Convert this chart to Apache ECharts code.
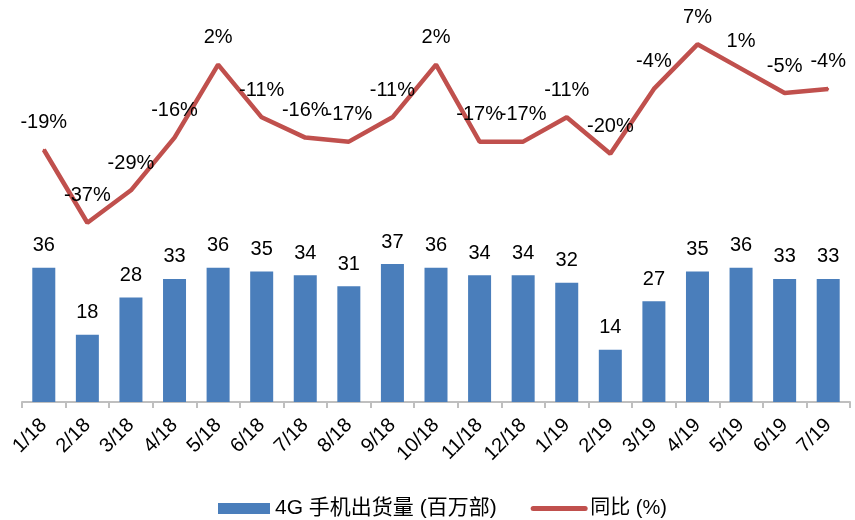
<!DOCTYPE html>
<html>
<head>
<meta charset="utf-8">
<script src="https://cdn.jsdelivr.net/npm/echarts@6/dist/echarts.min.js"></script>
<style>
  html, body { margin: 0; padding: 0; background: #fff; }
  #chart { width: 855px; height: 520px; }
</style>
</head>
<body>
<div id="chart"></div>
<script>
// Monthly 4G handset shipments (million units) and year-on-year change (%)
const months = ['1/18', '2/18', '3/18', '4/18', '5/18', '6/18', '7/18', '8/18', '9/18', '10/18',
  '11/18', '12/18', '1/19', '2/19', '3/19', '4/19', '5/19', '6/19', '7/19'];
const shipments = [36, 18, 28, 33, 36, 35, 34, 31, 37, 36, 34, 34, 32, 14, 27, 35, 36, 33, 33];
const yoyChange = [-19, -37, -29, -16, 2, -11, -16, -17, -11, 2, -17, -17, -11, -20, -4, 7, 1, -5, -4];

const shipmentName = '4G 手机出货量 (百万部)';
const yoyName = '同比 (%)';

const FONT = "'Liberation Sans', Arial, 'Noto Sans CJK SC', sans-serif";
const LINE_RED = '#C0504D';

const chart = echarts.init(document.getElementById('chart'), null, { renderer: 'canvas' });

chart.setOption({
  animation: false,
  backgroundColor: '#ffffff',
  textStyle: { fontFamily: FONT },
  grid: { left: 22, right: 5, top: 29, bottom: 118, containLabel: false },
  legend: {
    left: 213,
    top: 493,
    itemWidth: 52,
    itemHeight: 11,
    itemGap: 34,
    textStyle: { fontSize: 20, color: '#000', fontFamily: FONT },
    data: [
      { name: shipmentName, icon: 'rect', textStyle: { fontSize: 21 } },
      // the line key shows only the stroke, without a marker
      { name: yoyName, itemStyle: { opacity: 0 }, lineStyle: { width: 5, cap: 'round' } }
    ]
  },
  xAxis: {
    type: 'category',
    data: months,
    boundaryGap: true,
    axisLine: { show: true, lineStyle: { color: '#BFBFBF', width: 2 } },
    axisTick: { show: true, interval: 0, length: 6, lineStyle: { color: '#BFBFBF', width: 2 } },
    axisLabel: {
      interval: 0,
      rotate: 45,
      margin: 20,
      fontSize: 20,
      color: '#000',
      fontFamily: FONT
    },
    splitLine: { show: false }
  },
  yAxis: [
    { type: 'value', min: 0, max: 100, show: false, splitLine: { show: false } },
    { type: 'value', min: -81.2, max: 10.78, show: false, splitLine: { show: false } }
  ],
  series: [
    {
      name: shipmentName,
      type: 'bar',
      yAxisIndex: 0,
      data: shipments,
      barWidth: 23,
      itemStyle: { color: '#4A7EBB' },
      label: {
        show: true,
        position: 'top',
        distance: 12,
        fontSize: 20,
        color: '#000',
        fontFamily: FONT
      }
    },
    {
      name: yoyName,
      type: 'line',
      yAxisIndex: 1,
      data: yoyChange,
      // tiny markers hidden under the stroke carry the value labels
      symbol: 'circle',
      symbolSize: 2,
      showSymbol: true,
      lineStyle: { color: LINE_RED, width: 4.5 },
      itemStyle: { color: LINE_RED },
      label: {
        show: true,
        position: 'top',
        distance: 16,
        formatter: '{c}%',
        fontSize: 20,
        color: '#000',
        fontFamily: FONT
      }
    }
  ]
});
</script>
</body>
</html>
